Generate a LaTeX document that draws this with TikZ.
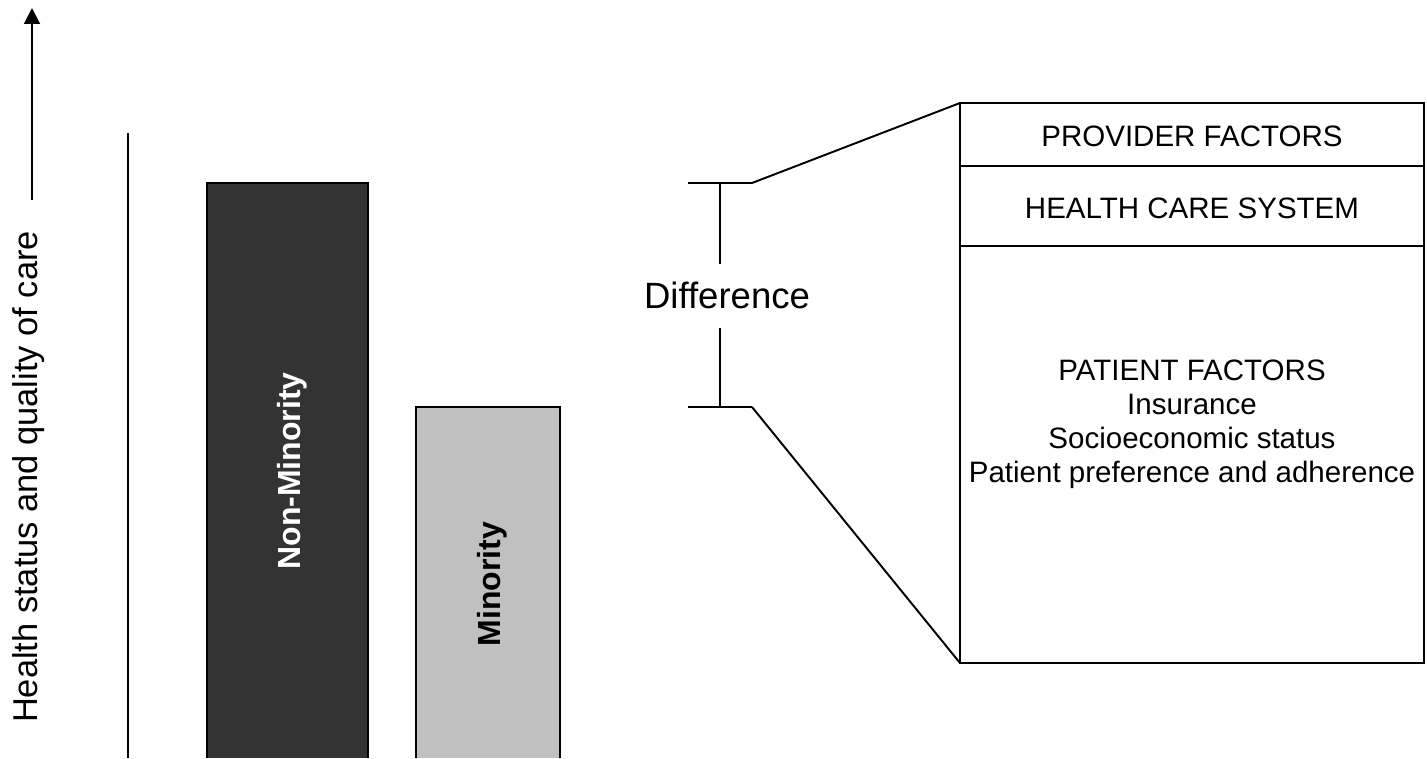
\documentclass[tikz,border=0pt]{standalone}
\usepackage{fontspec}
\setmainfont{Liberation Sans}
\usetikzlibrary{arrows.meta}
\definecolor{nonmin}{HTML}{333333}
\definecolor{minor}{HTML}{C0C0C0}

\begin{document}
\begin{tikzpicture}[x=0.02cm,y=-0.02cm,
  line/.style={line width=1.1pt},
  factor/.style={anchor=base, font=\fontsize{16.8}{19.3}\selectfont},
  barlabel/.style={rotate=90, anchor=base, font=\fontsize{18.2}{22}\selectfont\bfseries}]
\useasboundingbox (0,0) rectangle (1427,758);
% axis
\coordinate[] (Tail) at (32,200);
\coordinate[] (Tip) at (32,8);
\draw [line, -{Triangle[length=9pt,width=9pt]}] (Tail) -- (Tip);
\node[rotate=90, anchor=base, font=\fontsize{19.6}{23}\selectfont] (ylabel) at (37,477) {Health status and quality of care};
\coordinate[] (Atop) at (128,133);
\coordinate[] (Abot) at (128,758);
\draw [line] (Atop) -- (Abot);
% bars
\fill [nonmin] (207,183) rectangle (368,758);
\draw [line] (207,758) |- (368,183) -- (368,758);
\node[barlabel, text=white] (nonminority) at (300,471) {Non-Minority};
\fill [minor] (416,407) rectangle (560,758);
\draw [line] (416,758) |- (560,407) -- (560,758);
\node[barlabel] (minority) at (500,584) {Minority};
% difference bracket
\coordinate[] (Lt) at (688,183);
\coordinate[] (Dt) at (752,183);
\coordinate[] (Lb) at (688,407);
\coordinate[] (Db) at (752,407);
\draw [line] (Lt) -- (Dt);
\draw [line] (Lb) -- (Db);
\draw [line] (720,183) -- (720,264);
\draw [line] (720,328) -- (720,407);
\node[anchor=base, font=\fontsize{20.8}{25}\selectfont] (diff) at (727,308) {Difference};
% factor box
\coordinate[] (Bnw) at (960,103);
\coordinate[] (Bsw) at (960,663);
\coordinate[] (Bse) at (1424,663);
\draw [line] (Dt) -- (Bnw);
\draw [line] (Db) -- (Bsw);
\draw [line] (Bnw) rectangle (Bse);
\draw [line] (960,166) -- (1424,166);
\draw [line] (960,246) -- (1424,246);
\node[factor] (provider) at (1192,146) {PROVIDER FACTORS};
\node[factor] (system) at (1192,218) {HEALTH CARE SYSTEM};
\node[factor] (patient) at (1192,380) {PATIENT FACTORS};
\node[factor] (insurance) at (1192,414) {Insurance};
\node[factor] (ses) at (1192,448) {Socioeconomic status};
\node[factor] (pref) at (1192,482) {Patient preference and adherence};
\end{tikzpicture}
\end{document}
